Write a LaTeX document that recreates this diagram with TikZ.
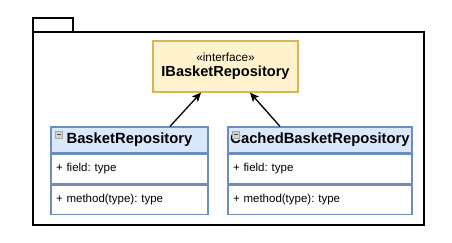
\documentclass[tikz,border=0pt]{standalone}
\usepackage{fontspec}
\setmainfont{Liberation Sans}
\usetikzlibrary{positioning,arrows.meta}

\definecolor{ifacefill}{HTML}{FFF2CC}
\definecolor{ifacedraw}{HTML}{D6B656}
\definecolor{classfill}{HTML}{DAE8FC}
\definecolor{classdraw}{HTML}{6C8EBF}

\tikzset{
  iface/.style={draw=ifacedraw, fill=ifacefill, line width=1.2pt, align=center,
                minimum width=145pt, minimum height=51pt, inner sep=0pt},
  classhead/.style={draw=classdraw, fill=classfill, line width=1.2pt,
                    minimum height=26pt, inner sep=0pt, font=\fontsize{14.8}{17}\selectfont\bfseries},
  classpart/.style={draw=classdraw, fill=white, line width=1.2pt, anchor=north west,
                    minimum height=29.5pt, inner sep=5pt, text height=8pt,
                    font=\fontsize{11.5}{13}\selectfont\frenchspacing, align=left},
  collapse/.style={draw=gray!70, fill=gray!35, minimum size=7pt, inner sep=0pt, line width=0.5pt,
                   path picture={\draw[black!70, line width=0.8pt]
                     ([xshift=1.5pt]path picture bounding box.west) -- ([xshift=-1.5pt]path picture bounding box.east);}},
  realize/.style={-{Stealth[length=9pt,width=8pt,inset=2pt]}, line width=1.3pt, black}
}

\begin{document}
\begin{tikzpicture}[x=1pt, y=-1pt]
  \useasboundingbox (0,0) rectangle (452,242);

  % package frame with its tab
  \draw[line width=1.8pt] (33,32) rectangle (424,225);
  \draw[line width=1.8pt] (33,32) -- (33,18) -- (73,18) -- (73,32);

  % the interface
  \node[iface] (irepo) at (225.5,66.5)
    {\fontsize{11.8}{14}\selectfont «interface»\\[3pt]\fontsize{14.6}{17}\selectfont\bfseries IBasketRepository};

  % BasketRepository
  \node[classhead, minimum width=157pt] (basket) at (129.5,140) {BasketRepository};
  \node[classpart, minimum width=157pt, text width=147pt] (basketfields) at (basket.south west) {+ field: type};
  \node[classpart, minimum width=157pt, text width=147pt] (basketmethods) at (basketfields.south west) {+ method(type): type};
  \node[collapse] (basketicon) at (59,134.5) {};

  % CachedBasketRepository
  \node[classhead, minimum width=184pt] (cached) at (320,140) {CachedBasketRepository};
  \node[classpart, minimum width=184pt, text width=174pt] (cachedfields) at (cached.south west) {+ field: type};
  \node[classpart, minimum width=184pt, text width=174pt] (cachedmethods) at (cachedfields.south west) {+ method(type): type};
  \node[collapse] (cachedicon) at (236,134.5) {};

  % realizations
  \draw[realize] (basket.north -| 170,0) -- (irepo.south -| 201,0);
  \draw[realize] (cached.north -| 280,0) -- (irepo.south -| 250,0);
\end{tikzpicture}
\end{document}
